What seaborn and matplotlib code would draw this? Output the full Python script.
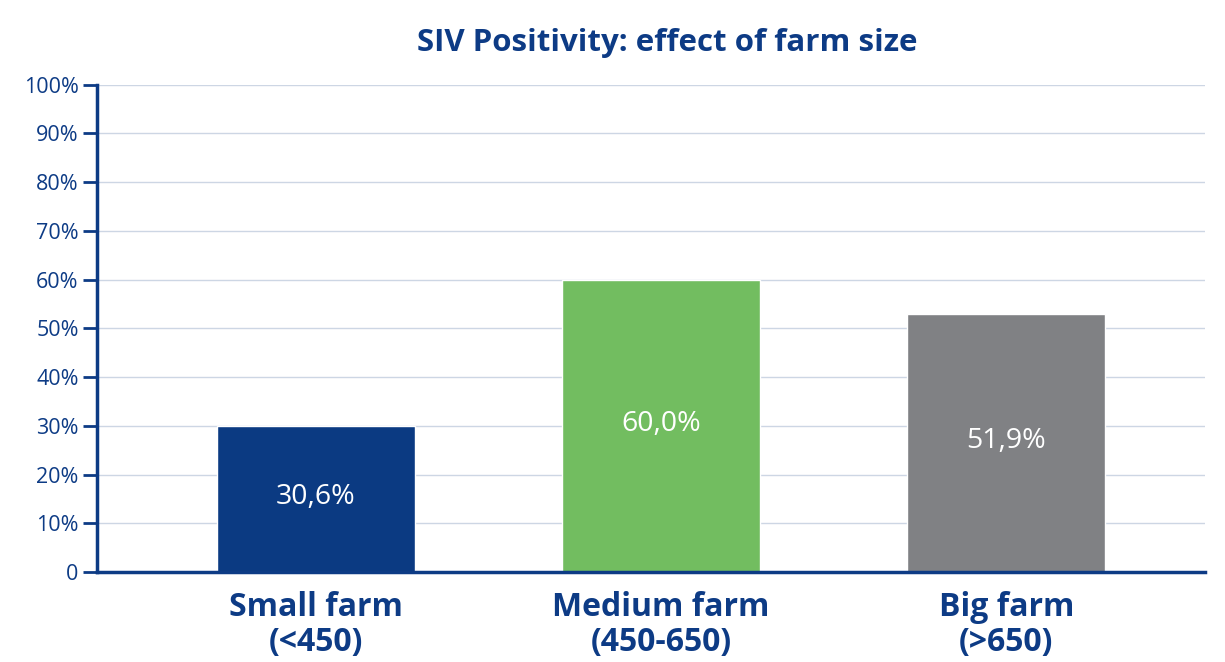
import numpy as np
import matplotlib.pyplot as plt
import seaborn as sns
import pandas as pd

# data
farms = ['Small farm\n(<450)', 'Medium farm\n(450-650)', 'Big farm\n(>650)']
bar_height = [30.0, 60.0, 53.0]
bar_label = ['30,6%', '60,0%', '51,9%']
bar_color = ['#0b3a82', '#72bd60', '#808184']
y_ticks = [0, 10, 20, 30, 40, 50, 60, 70, 80, 90, 100]
y_ticklabels = ['0'] + [str(v) + '%' for v in y_ticks[1:]]

navy = '#0d3b85'

df = pd.DataFrame({'farm': farms, 'pos': bar_height})

sns.set_style("white")
plt.rcParams['font.family'] = ['Open Sans', 'DejaVu Sans']

fig = plt.figure(figsize=(12.25, 6.62), dpi=100)
ax = fig.add_axes([0.079, 0.136, 0.905, 0.736])

sns.barplot(data=df, x='farm', y='pos', hue='farm', palette=bar_color,
            width=0.575, legend=False, ax=ax, saturation=1)

for i, (h, lab) in enumerate(zip(bar_height, bar_label)):
    ax.text(i, h / 2 + 0.3, lab, ha='center', va='center', color='white', fontsize=20.5)

ax.set_ylim(0, 100)
ax.set_xlim(-0.635, 2.577)
ax.set_yticks(y_ticks)
ax.set_yticklabels(y_ticklabels, color=navy, fontsize=15.5)
ax.yaxis.grid(True, color='#cdd6e4', linewidth=1)
ax.set_axisbelow(True)
ax.tick_params(axis='y', length=10, width=2, color=navy, pad=3, left=True)
ax.tick_params(axis='x', length=0, pad=14)
for t in ax.get_xticklabels():
    t.set_fontsize(23)
    t.set_fontweight('bold')
    t.set_color(navy)
    t.set_linespacing(1.05)

for s in ['top', 'right']:
    ax.spines[s].set_visible(False)
for s in ['left', 'bottom']:
    ax.spines[s].set_color(navy)
    ax.spines[s].set_linewidth(2.5)

ax.set_xlabel('')
ax.set_ylabel('')
fig.text(0.545, 0.935, 'SIV Positivity: effect of farm size', ha='center', va='center',
         fontsize=22.5, fontweight='bold', color=navy)

fig.savefig('out.png', dpi=100)
